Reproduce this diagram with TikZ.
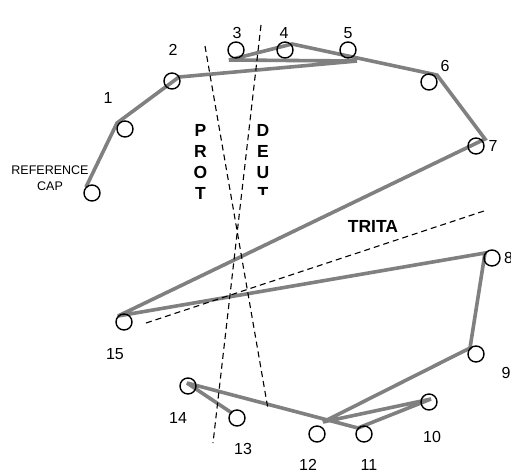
\documentclass[tikz,border=0pt]{standalone}
\usepackage{fontspec}
\setmainfont{Liberation Sans}
\begin{document}
\begin{tikzpicture}[x=1pt,y=-1pt,
  capcircle/.style={circle,draw=black,line width=1.4pt,minimum size=16pt,inner sep=0pt},
  num/.style={inner sep=0pt,font=\fontsize{16}{19}\selectfont},
  grayline/.style={draw=black!50,line width=3.6pt,line join=miter,miter limit=2.5},
  axis/.style={draw=black,line width=1.1pt,dash pattern=on 6pt off 4pt},
  vlabel/.style={inner sep=0pt,align=center,font=\fontsize{17.5}{21}\selectfont\bfseries},
  hlabel/.style={inner sep=0pt,font=\fontsize{17.5}{21}\selectfont\bfseries}]
\useasboundingbox (0,0) rectangle (511,472);
\clip (0,0) rectangle (511,472);
% gray path vertices
\coordinate (v0) at (86,187);
\coordinate (v1) at (117,123);
\coordinate (v2) at (179,77);
\coordinate (v5) at (357,61);
\coordinate (v3) at (229,60);
\coordinate (v4) at (292,44);
\coordinate (v6) at (437,75);
\coordinate (v7) at (485,139);
\coordinate (v15) at (118,316);
\coordinate (v8) at (485,253);
\coordinate (v9) at (470,348);
\coordinate (v12) at (323,422);
\coordinate (v10) at (431,399);
\coordinate (v11) at (358,428);
\coordinate (v14) at (187,383);
\coordinate (v13) at (232,413);
\draw[grayline] (v0) -- (v1) -- (v2) -- (v5) -- (v3) -- (v4) -- (v6) -- (v7)
  -- (v15) -- (v8) -- (v9) -- (v12) -- (v10) -- (v11) -- (v14) -- (v13);
% circles
\node[capcircle] (c0) at (92,193) {};
\node[capcircle] (c1) at (125,129) {};
\node[capcircle] (c2) at (172,81) {};
\node[capcircle] (c3) at (236,50) {};
\node[capcircle] (c4) at (285,50) {};
\node[capcircle] (c5) at (348,50) {};
\node[capcircle] (c6) at (429,82) {};
\node[capcircle] (c7) at (476,146) {};
\node[capcircle] (c8) at (492,258) {};
\node[capcircle] (c9) at (476,354) {};
\node[capcircle] (c10) at (429,402) {};
\node[capcircle] (c11) at (364,434) {};
\node[capcircle] (c12) at (317,434) {};
\node[capcircle] (c13) at (237,418) {};
\node[capcircle] (c14) at (188,386) {};
\node[capcircle] (c15) at (124,322) {};
% numbers
\node[num] (n1) at (108,98) {1};
\node[num] (n2) at (173,50) {2};
\node[num] (n3) at (237,33) {3};
\node[num] (n4) at (284,33) {4};
\node[num] (n5) at (348,33) {5};
\node[num] (n6) at (445,66) {6};
\node[num] (n7) at (493,146) {7};
\node[num] (n8) at (508.5,258) {8};
\node[num] (n9) at (506,373) {9};
\node[num] (n10) at (432,437) {10};
\node[num] (n11) at (369,465) {11};
\node[num] (n12) at (308,465) {12};
\node[num] (n13) at (243,449) {13};
\node[num] (n14) at (178,418) {14};
\node[num] (n15) at (115,354) {15};
\node[inner sep=0pt,align=center,font=\fontsize{12.5}{15.5}\selectfont] (ref) at (50,178) {REFERENCE\\CAP};
% axis lines
\coordinate (pa) at (205,46);
\coordinate (pb) at (268,409);
\coordinate (da) at (261,25);
\coordinate (db) at (213,443);
\coordinate (ta) at (146,323);
\coordinate (tb) at (487,210);
\draw[axis] (pa) -- (pb);
\draw[axis] (da) -- (db);
\draw[axis] (ta) -- (tb);
% axis labels
\node[vlabel] (prot) at (200.5,161.5) {P\\R\\O\\T};
\begin{scope}
\clip (240,100) rectangle (290,194.5);
\node[vlabel] (deut) at (263,162) {D\\E\\U\\T};
\end{scope}
\node[hlabel] (trita) at (373,226) {TRITA};
\end{tikzpicture}
\end{document}
